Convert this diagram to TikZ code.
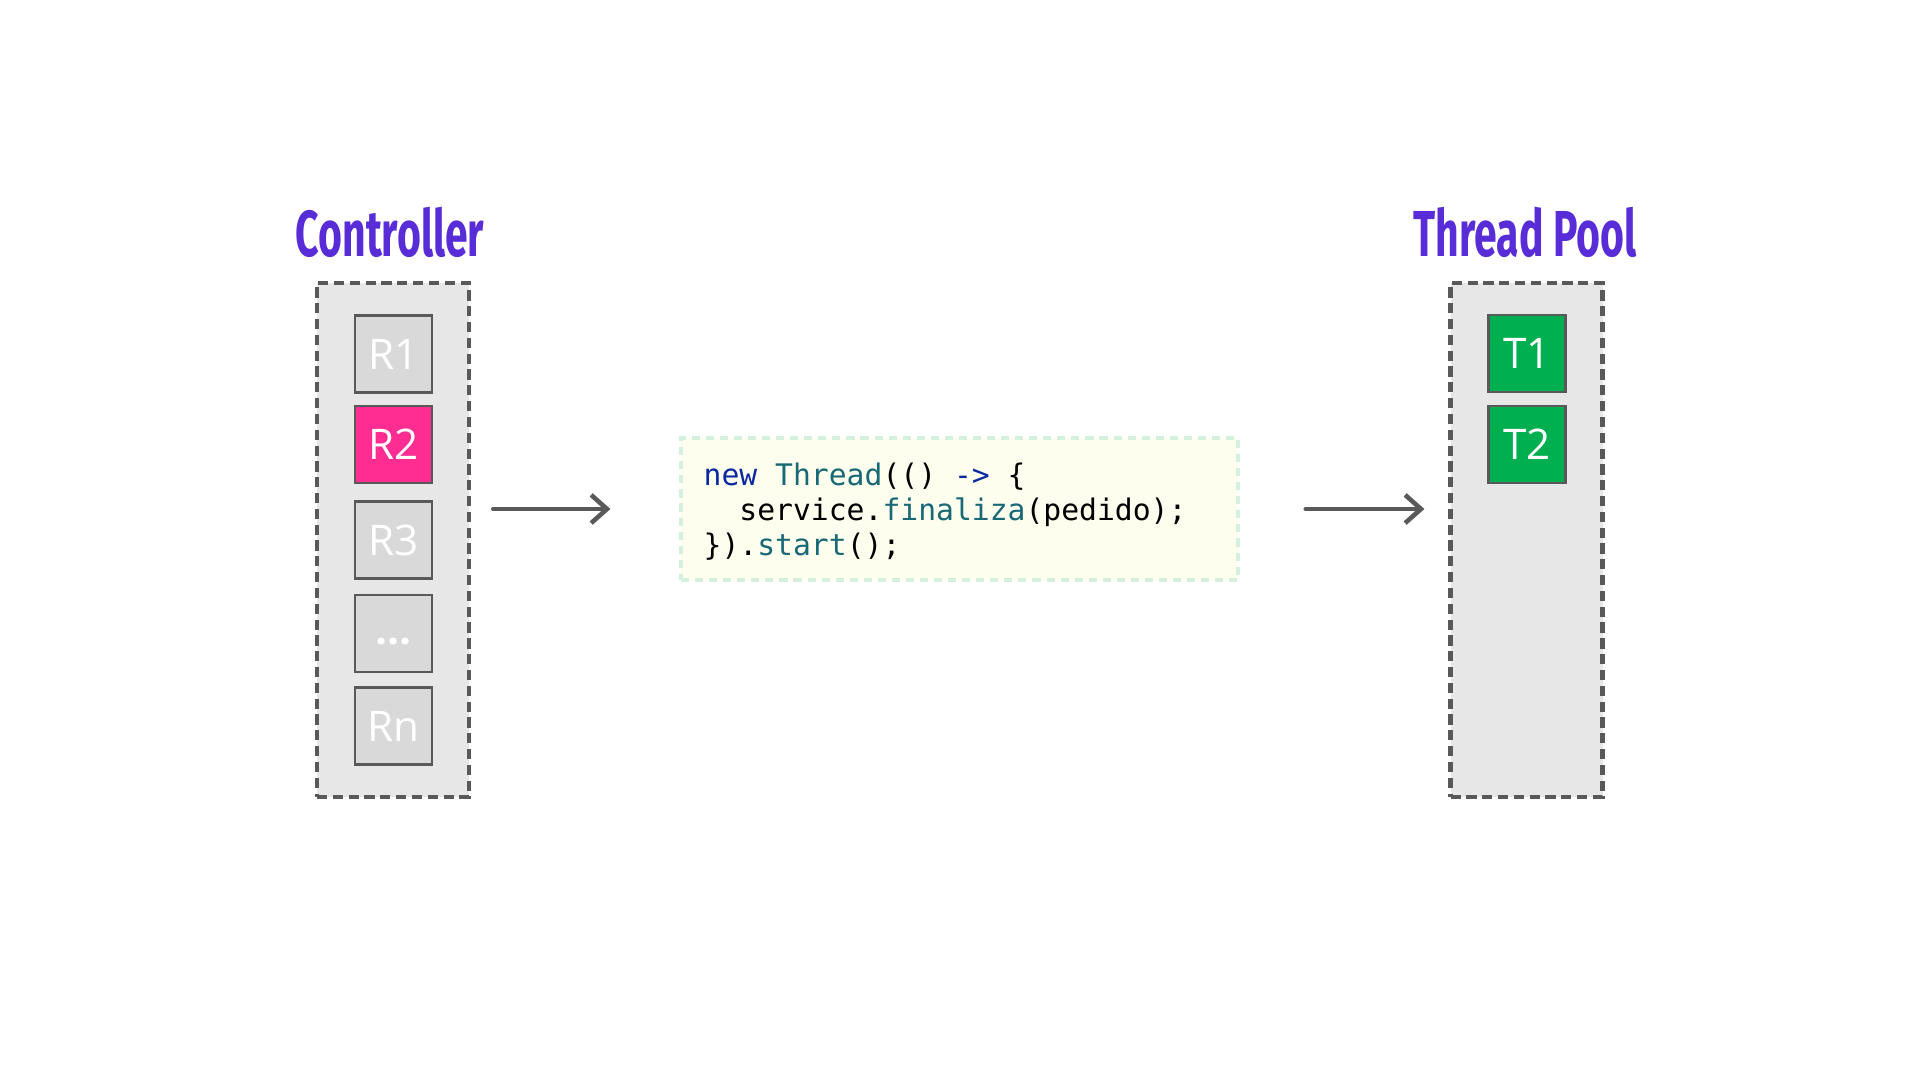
\documentclass[tikz,border=0pt]{standalone}
\usepackage{fontspec}
\setmainfont{Open Sans}
\newfontfamily\titlefont[FakeStretch=0.63]{Fira Sans}
\newfontfamily\codefont{DejaVu Sans Mono}
\usetikzlibrary{arrows.meta}
\definecolor{titlecol}{RGB}{88,44,214}
\definecolor{edgecol}{RGB}{89,89,89}
\definecolor{poolcol}{RGB}{231,231,231}
\definecolor{reqcol}{RGB}{217,217,217}
\definecolor{pinkcol}{RGB}{255,45,145}
\definecolor{greencol}{RGB}{0,176,80}
\definecolor{codefill}{RGB}{254,254,238}
\definecolor{codeedge}{RGB}{214,240,222}
\definecolor{kwcol}{RGB}{10,40,160}
\definecolor{fncol}{RGB}{24,104,118}
\tikzset{
  pool/.style={draw=edgecol, fill=poolcol, line width=1.2pt, dash pattern=on 2.9pt off 1.6pt, minimum width=1.52cm, minimum height=5.14cm, inner sep=0pt},
  req/.style={draw=edgecol, fill=reqcol, line width=0.6pt, minimum size=0.77cm, inner sep=0pt, text=white, font=\fontsize{12}{14}\selectfont},
  title/.style={text=titlecol, font=\titlefont\bfseries\fontsize{18.5}{20}\selectfont},
  flow/.style={draw=edgecol, line width=1.2pt, line cap=round, -{Straight Barb[length=4.5pt,width=8pt,line width=1.3pt]}}
}
\begin{document}
\begin{tikzpicture}
\useasboundingbox (0,0) rectangle (19.2,-10.8);
\node[title] (ctl) at (3.90,-2.32) {Controller};
\node[title] (tpl) at (15.25,-2.32) {Thread Pool};

\node[pool] (lpool) at (3.93,-5.40) {};
\node[req] (r1) at (3.935,-3.54) {R1};
\node[req, fill=pinkcol] (r2) at (3.935,-4.445) {R2};
\node[req] (r3) at (3.935,-5.40) {R3};
\node[req] (r4) at (3.935,-6.335) {\vphantom{x}\textbf{...}};
\node[req] (rn) at (3.935,-7.26) {Rn};

\node[pool] (rpool) at (15.265,-5.40) {};
\node[req, fill=greencol] (t1) at (15.27,-3.535) {T1};
\node[req, fill=greencol] (t2) at (15.27,-4.445) {T2};

\node[draw=codeedge, fill=codefill, line width=0.9pt, dash pattern=on 2.3pt off 1.7pt, minimum width=5.57cm, minimum height=1.42cm, inner sep=0pt] (code) at (9.595,-5.09) {};
\node[anchor=west, align=left, inner sep=0pt, font=\codefont\fontsize{8.45}{9.95}\selectfont] (src) at (7.03,-5.12)
  {\textcolor{kwcol}{new} \textcolor{fncol}{Thread}(() \textcolor{kwcol}{->} \{\\
  \phantom{xx}service.\textcolor{fncol}{finaliza}(pedido);\\
  \}).\textcolor{fncol}{start}();};

\path[flow] (lpool.east |- code.west) [shorten <=0.22cm, shorten >=0.69cm] -- (code.west);
\path[flow] (code.east) [shorten <=0.66cm, shorten >=0.24cm] -- (rpool.west |- code.east);
\end{tikzpicture}
\end{document}
